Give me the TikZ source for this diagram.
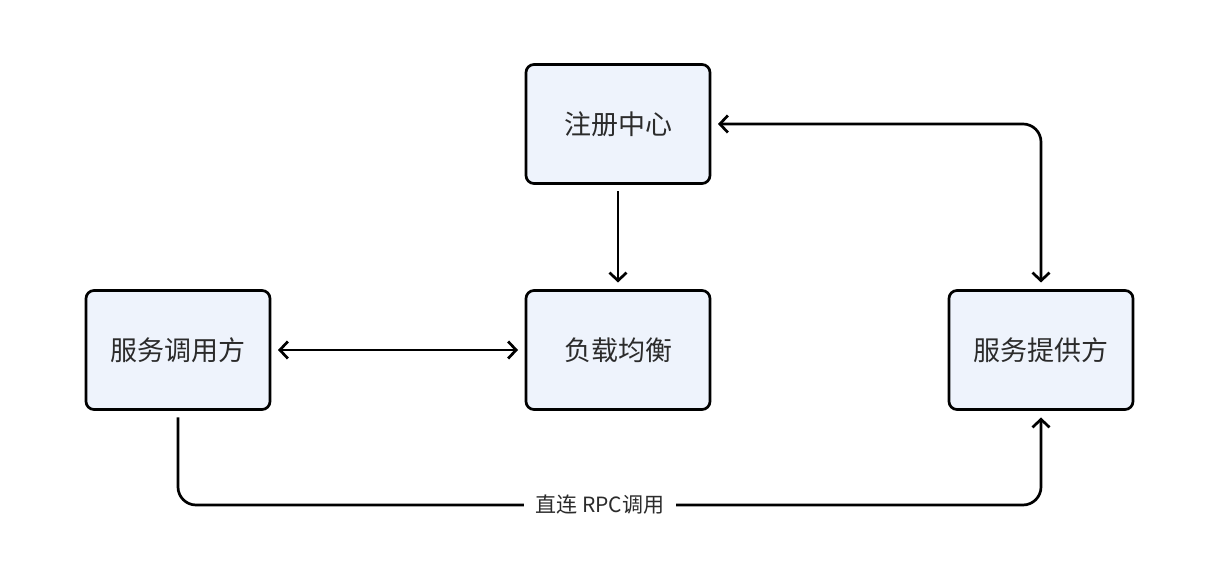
\documentclass[tikz,border=0pt]{standalone}
\usepackage{fontspec}
\setmainfont{Noto Sans CJK SC}
\usetikzlibrary{arrows.meta}
\begin{document}
\begin{tikzpicture}[x=1pt,y=1pt,
  box/.style={draw=black, line width=2.7pt, rounded corners=8pt, fill=boxfill,
    minimum width=184pt, minimum height=119pt, outer sep=8pt, text=textc,
    font=\fontsize{27}{32}\selectfont},
  conn/.style={line width=2.7pt, rounded corners=18pt},
  tip/.style={-{Straight Barb[length=8pt,width=17pt,line width=2.7pt]}},
  tips/.style={{Straight Barb[length=8pt,width=17pt,line width=2.7pt]}-{Straight Barb[length=8pt,width=17pt,line width=2.7pt]}},
  lbl/.style={fill=white, text=textc, inner xsep=12pt, font=\fontsize{21}{25}\selectfont}
]
\definecolor{boxfill}{HTML}{EEF3FC}
\definecolor{textc}{HTML}{2B2B2B}
\useasboundingbox (0,0) rectangle (1229,572);
\fill[white] (0,0) rectangle (1229,572);
\node[box] (reg) at (618,448) {注册中心};
\node[box] (caller) at (178,222) {服务调用方};
\node[box] (lb) at (618,222) {负载均衡};
\node[box] (prov) at (1041,222) {服务提供方};
\coordinate (bot) at (600,67);
\draw[conn, tip] (reg) -- (lb);
\draw[conn, tips] (caller) -- (lb);
\draw[conn, tips] (reg.east) -- (reg.east -| prov.north) -- (prov.north);
\draw[conn, tip] (caller.south) -- (caller.south |- bot) -- (prov.south |- bot) -- (prov.south);
\node[lbl] (rpc) at (bot) {直连 RPC调用};
\end{tikzpicture}
\end{document}
